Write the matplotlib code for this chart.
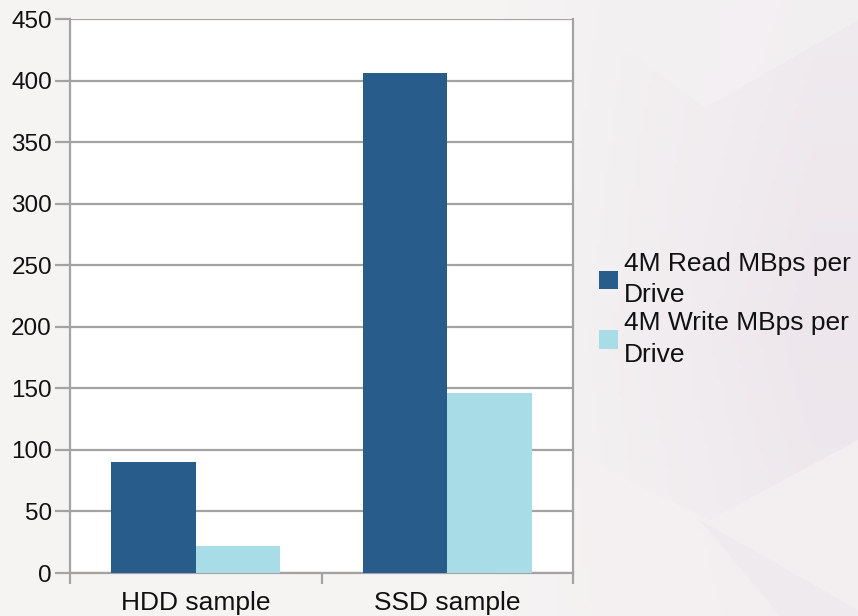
import numpy as np
import matplotlib.pyplot as plt
from matplotlib.patches import Polygon

plt.rcParams['font.family'] = ['Liberation Sans', 'DejaVu Sans']

categories = ["HDD sample", "SSD sample"]
read_mbps = [90, 406]
write_mbps = [22, 146]
series_names = ["4M Read MBps per\nDrive", "4M Write MBps per\nDrive"]
y_ticks = [0, 50, 100, 150, 200, 250, 300, 350, 400, 450]

read_color = "#285c8a"
write_color = "#a8dce7"
grid_color = "#a3a3a3"

W, H = 858, 616
fig = plt.figure(figsize=(W / 100, H / 100), dpi=100)

# soft slide-style backdrop
bg = fig.add_axes([0, 0, 1, 1], zorder=-10)
bg.set_xlim(0, W)
bg.set_ylim(H, 0)
bg.axis("off")
xx = np.linspace(0, 1, 200)
yy = np.linspace(0, 1, 200)
X, Y = np.meshgrid(xx, yy)
c0 = np.array([0.965, 0.960, 0.955])
c1 = np.array([0.930, 0.905, 0.928])
t = np.clip((X - 0.55) / 0.40, 0, 1) * (1 - 0.5 * np.abs(Y - 0.55))
img = c0[None, None, :] * (1 - t[..., None]) + c1[None, None, :] * t[..., None]
bg.imshow(img, extent=[0, W, H, 0], aspect="auto", zorder=0)
bg.add_patch(Polygon([[575, 10], [705, 108], [858, 20], [858, 0], [575, 0]],
                     closed=True, facecolor="#f4f1f3", edgecolor="none", alpha=0.8, zorder=1))
bg.add_patch(Polygon([[575, 455], [710, 520], [858, 440], [858, 616], [575, 616]],
                     closed=True, facecolor="#f5f1f2", edgecolor="none", alpha=0.8, zorder=1))
bg.add_patch(Polygon([[700, 520], [858, 610], [858, 616], [780, 616]],
                     closed=True, facecolor="#eee8ed", edgecolor="none", alpha=0.7, zorder=2))

ax = fig.add_axes([70 / W, 1 - 573 / H, (573 - 70) / W, (573 - 19) / H])
ax.set_facecolor("white")

x = np.arange(len(categories))
bw = 0.335
ax.bar(x - bw / 2, read_mbps, width=bw, color=read_color, label=series_names[0], zorder=3)
ax.bar(x + bw / 2, write_mbps, width=bw, color=write_color, label=series_names[1], zorder=3)

ax.set_xlim(-0.5, len(categories) - 0.5)
ax.set_ylim(0, 450)
ax.set_yticks(y_ticks)
ax.set_yticklabels([str(v) for v in y_ticks])
ax.set_xticks(x)
ax.set_xticklabels(categories)
ax.set_xticks(np.arange(len(categories) + 1) - 0.5, minor=True)

ax.yaxis.grid(True, color=grid_color, linewidth=1.6, zorder=1)
ax.set_axisbelow(True)

for s in ax.spines.values():
    s.set_color(grid_color)
    s.set_linewidth(1.6)
ax.spines["top"].set_visible(False)

ax.tick_params(axis="y", which="major", length=11, width=1.6, color=grid_color,
               labelsize=17.5, pad=2, labelcolor="#111111")
ax.tick_params(axis="x", which="major", length=0, labelsize=19, pad=13, labelcolor="#111111")
ax.tick_params(axis="x", which="minor", length=8, width=1.6, color=grid_color)

leg = ax.legend(loc="center left", bbox_to_anchor=(1.052, 0.476), frameon=False,
                fontsize=19, handlelength=0.7, handleheight=0.7, handletextpad=0.25,
                labelspacing=0.15, borderaxespad=0, borderpad=0)
for txt in leg.get_texts():
    txt.set_color("#111111")
    txt.set_linespacing(1.4)

fig.savefig("out.png", dpi=100)
